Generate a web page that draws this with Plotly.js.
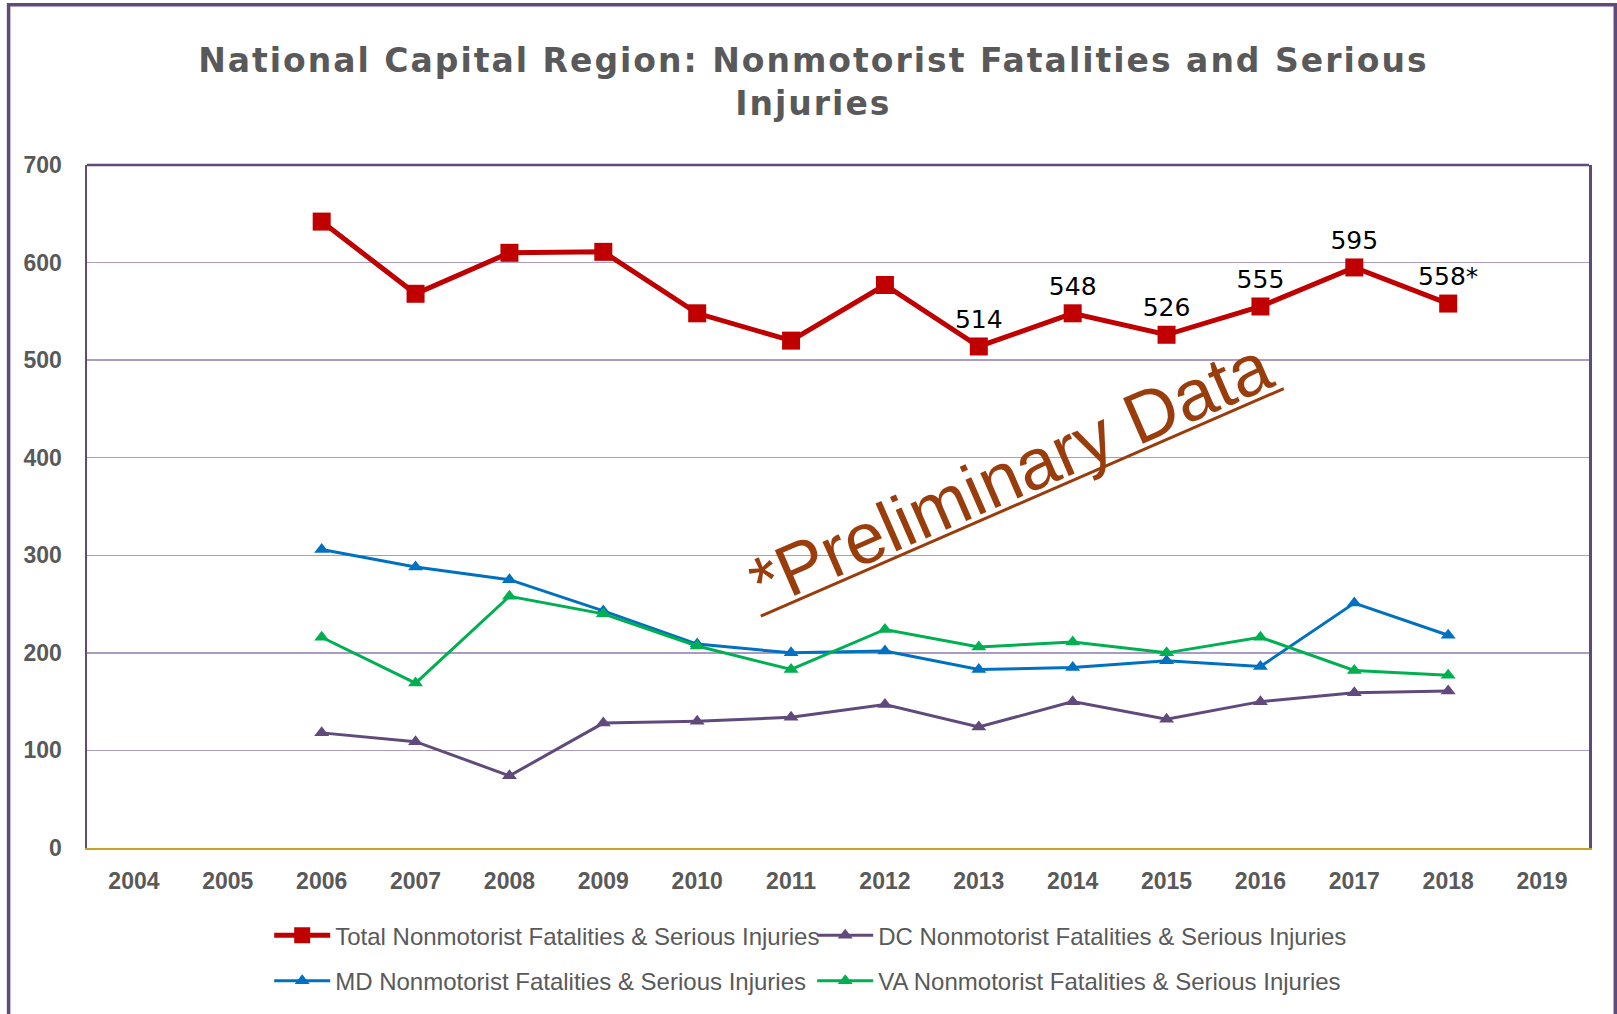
<!DOCTYPE html>
<html>
<head>
<meta charset="utf-8">
<script src="https://cdn.plot.ly/plotly-3.0.1.min.js"></script>
<style>
  html, body { margin: 0; padding: 0; background: #fff; }
  #chart { width: 1617px; height: 1014px; }
</style>
</head>
<body>
<div id="chart"></div>
<script>
// ---- Data ----
const years = [2006, 2007, 2008, 2009, 2010, 2011, 2012, 2013, 2014, 2015, 2016, 2017, 2018];
const axisYears = [2004, 2005, 2006, 2007, 2008, 2009, 2010, 2011, 2012, 2013, 2014, 2015, 2016, 2017, 2018, 2019];
const totalValues = [642, 568, 610, 611, 548, 520, 577, 514, 548, 526, 555, 595, 558];
const dcValues    = [118, 109, 74, 128, 130, 134, 147, 124, 150, 132, 150, 159, 161];
const mdValues    = [306, 288, 275, 243, 209, 200, 202, 183, 185, 192, 186, 251, 218];
const vaValues    = [216, 169, 258, 240, 207, 183, 224, 206, 211, 200, 216, 182, 177];
const labelFromYear = 2013;
const preliminaryYear = 2018;
const seriesNames = [
  'Total Nonmotorist Fatalities & Serious Injuries',
  'DC Nonmotorist Fatalities & Serious Injuries',
  'MD Nonmotorist Fatalities & Serious Injuries',
  'VA Nonmotorist Fatalities & Serious Injuries'
];
const yTicks = [0, 100, 200, 300, 400, 500, 600, 700];

// ---- Styles ----
const gray = '#595959';
const sans = '"Liberation Sans", Arial, sans-serif';
const wide = '"DejaVu Sans", Verdana, sans-serif';

const totalLabels = years.map((y, i) =>
  y >= labelFromYear ? String(totalValues[i]) + (y === preliminaryYear ? '*' : '') : '');

const traces = [
  {
    x: years, y: totalValues, name: seriesNames[0], type: 'scatter',
    mode: 'lines+markers+text', text: totalLabels, textposition: 'top center',
    textfont: { family: wide, size: 25, color: '#000000' },
    line: { color: '#C00000', width: 5 },
    marker: { symbol: 'square', size: 18, color: '#C00000' },
    legend: 'legend'
  },
  {
    x: years, y: dcValues, name: seriesNames[1], type: 'scatter', mode: 'lines+markers',
    line: { color: '#604A7B', width: 3 },
    marker: { symbol: 'triangle-up', size: 13, color: '#604A7B' },
    legend: 'legend'
  },
  {
    x: years, y: mdValues, name: seriesNames[2], type: 'scatter', mode: 'lines+markers',
    line: { color: '#0070C0', width: 3 },
    marker: { symbol: 'triangle-up', size: 13, color: '#0070C0' },
    legend: 'legend2'
  },
  {
    x: years, y: vaValues, name: seriesNames[3], type: 'scatter', mode: 'lines+markers',
    line: { color: '#00B050', width: 3 },
    marker: { symbol: 'triangle-up', size: 13, color: '#00B050' },
    legend: 'legend2'
  }
];

const legendBase = {
  orientation: 'h', x: 0.1213, xanchor: 'left', yanchor: 'middle',
  entrywidth: 472, entrywidthmode: 'pixels',
  itemwidth: 56,
  font: { family: sans, size: 24, color: gray },
  bgcolor: 'rgba(0,0,0,0)', traceorder: 'normal'
};

const layout = {
  width: 1617, height: 1014,
  margin: { l: 87, r: 28, t: 165, b: 165 },
  paper_bgcolor: '#ffffff', plot_bgcolor: '#ffffff',
  title: {
    text: '<span style="letter-spacing:2px">National Capital Region: Nonmotorist Fatalities and Serious</span><br><span style="letter-spacing:2px">Injuries</span>',
    font: { family: wide, size: 33, color: gray, weight: 'bold' },
    x: 0.503, xanchor: 'center', xref: 'container',
    y: 0.929, yanchor: 'top', yref: 'container'
  },
  xaxis: {
    type: 'linear', range: [2003.5, 2019.5],
    tickmode: 'array', tickvals: axisYears, ticktext: axisYears.map(String),
    showgrid: false, zeroline: false,
    showline: true, linecolor: '#C9A227', linewidth: 2,
    ticks: '', ticklabelstandoff: 11,
    tickfont: { family: sans, size: 23, color: gray, weight: 'bold' },
    fixedrange: true
  },
  yaxis: {
    range: [0, 700], tickmode: 'array', tickvals: yTicks,
    showgrid: true, gridcolor: '#A99BC4', gridwidth: 1.5,
    zeroline: false,
    showline: true, mirror: true, linecolor: '#604A7B', linewidth: 2.5,
    ticks: '', ticklabelstandoff: 18,
    tickfont: { family: sans, size: 23, color: gray, weight: 'bold' },
    fixedrange: true
  },
  showlegend: true,
  legend: Object.assign({}, legendBase, { y: -0.1267 }),
  legend2: Object.assign({}, legendBase, { y: -0.1932 }),
  shapes: [
    { type: 'line', xref: 'paper', yref: 'paper', x0: 0, x1: 1, y0: 1, y1: 1,
      line: { color: '#604A7B', width: 2.5 } },
    { type: 'rect', xref: 'paper', yref: 'paper',
      x0: -0.0522, x1: 1.0175, y0: -0.3, y1: 1.2345,
      line: { color: '#604A7B', width: 3.5 }, fillcolor: 'rgba(0,0,0,0)', layer: 'below' },
    { type: 'line', xref: 'paper', yref: 'paper',
      x0: 0.4486, y0: 0.3395, x1: 0.7968, y1: 0.6727,
      line: { color: '#9A3D0C', width: 3 } }
  ],
  annotations: [
    {
      text: '*Preliminary Data', xref: 'paper', yref: 'paper',
      x: 0.615, y: 0.548, xanchor: 'center', yanchor: 'middle',
      textangle: -23.6, showarrow: false,
      font: { family: sans, size: 72, color: '#9A3D0C' }
    }
  ]
};

Plotly.newPlot('chart', traces, layout, { displayModeBar: false, staticPlot: true });
</script>
</body>
</html>
